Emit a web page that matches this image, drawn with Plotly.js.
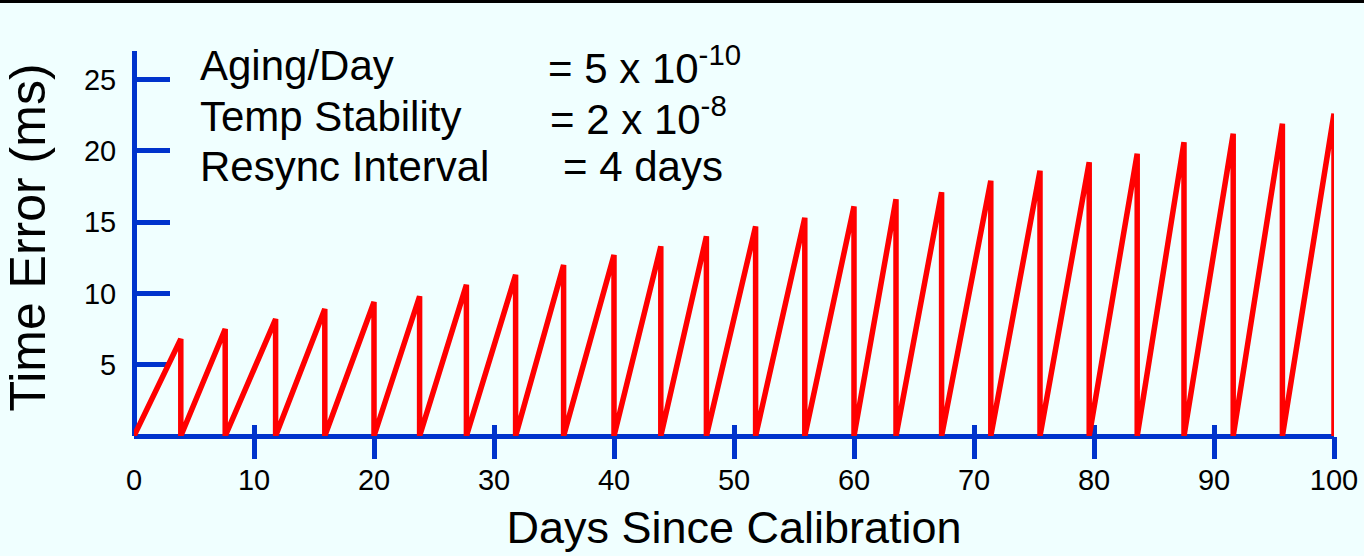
<!DOCTYPE html>
<html>
<head>
<meta charset="utf-8">
<script src="https://cdn.plot.ly/plotly-3.0.1.min.js"></script>
<style>
  html, body { margin: 0; padding: 0; background: #F0FFFF; }
  #chart { width: 1364px; height: 556px; }
</style>
</head>
<body>
<div id="chart"></div>
<script>
// Days at which each resync (drop to zero) happens
const resyncDays = [3.9, 7.6, 11.8, 15.9, 20.0, 23.8, 27.7, 31.8, 35.8, 40.0, 43.9, 47.7, 51.8,
                    55.9, 60.0, 63.5, 67.3, 71.4, 75.5, 79.6, 83.6, 87.5, 91.6, 95.7, 100];
// Peak time error (ms) reached just before each resync
const peakErrors = [6.8, 7.5, 8.2, 8.9, 9.4, 9.8, 10.6, 11.3, 12.0, 12.7, 13.3, 14.0, 14.7,
                    15.3, 16.1, 16.6, 17.1, 17.9, 18.6, 19.2, 19.8, 20.6, 21.2, 21.9, 22.6];
const startDay = 0;
const startError = 0;
const resetError = 0;

const xTickVals = [0, 10, 20, 30, 40, 50, 60, 70, 80, 90, 100];
const xTickText = ['0', '10', '20', '30', '40', '50', '60', '70', '80', '90', '100'];
const xMarkVals = [10, 20, 30, 40, 50, 60, 70, 80, 90, 100];
const yTickVals = [5, 10, 15, 20, 25];
const yTickText = ['5', '10', '15', '20', '25'];

const xTitle = 'Days Since Calibration';
const yTitle = 'Time Error (ms)';
const infoLabels = ['Aging/Day', 'Temp Stability', 'Resync Interval'];
const infoValues = ['= 5 x 10<sup>-10</sup>', '= 2 x 10<sup>-8</sup>', '= 4 days'];

// Build sawtooth path from the arrays
const sx = [startDay], sy = [startError];
for (let i = 0; i < resyncDays.length; i++) {
  sx.push(resyncDays[i]); sy.push(peakErrors[i]);
  sx.push(resyncDays[i]); sy.push(resetError);
}

const BLUE = '#0033CC';
const FONT = 'Liberation Sans, Arial, Helvetica, sans-serif';

const traces = [
  { x: [], y: [], xaxis: 'x2', yaxis: 'y', mode: 'lines', hoverinfo: 'skip', showlegend: false },
  { x: [], y: [], xaxis: 'x3', yaxis: 'y', mode: 'lines', hoverinfo: 'skip', showlegend: false },
  { x: sx, y: sy, xaxis: 'x', yaxis: 'y', mode: 'lines',
    line: { color: '#FF0000', width: 5.5, shape: 'linear' }, hoverinfo: 'skip', showlegend: false }
];

const labelX = 0.0535;
const valueX = [0.343, 0.345, 0.356];
const rowY = [0.9636, 0.830, 0.699];
const annotations = [];
for (let i = 0; i < infoLabels.length; i++) {
  annotations.push({ xref: 'paper', yref: 'paper', x: labelX, y: rowY[i], xanchor: 'left', yanchor: 'middle',
    text: infoLabels[i], showarrow: false, font: { family: FONT, size: 42, color: '#000' } });
  annotations.push({ xref: 'paper', yref: 'paper', x: valueX[i], y: rowY[i], xanchor: 'left', yanchor: 'middle',
    text: infoValues[i], showarrow: false, font: { family: FONT, size: 42, color: '#000' } });
}
annotations.push({ xref: 'paper', yref: 'paper', x: -0.0883, y: 0.5156, xanchor: 'center', yanchor: 'middle',
  textangle: -90, text: yTitle, showarrow: false, font: { family: FONT, size: 50, color: '#000' } });

const baseX = { range: [0, 100], showgrid: false, zeroline: false, fixedrange: true };

const layout = {
  width: 1364, height: 556,
  margin: { l: 134, r: 30, t: 51, b: 120, pad: 0 },
  paper_bgcolor: '#F0FFFF', plot_bgcolor: '#F0FFFF',
  font: { family: FONT, color: '#000' },
  showlegend: false,
  xaxis: Object.assign({}, baseX, {
    anchor: 'free', position: 0,
    showline: true, linecolor: BLUE, linewidth: 5, layer: 'below traces',
    ticks: '', tickmode: 'array', tickvals: xTickVals, ticktext: xTickText,
    tickfont: { family: FONT, size: 29, color: '#000' }, ticklabelstandoff: 16,
    title: { text: xTitle, font: { family: FONT, size: 45, color: '#000' }, standoff: 16 },
    automargin: false
  }),
  xaxis2: Object.assign({}, baseX, {
    overlaying: 'x', anchor: 'y', side: 'bottom', showline: false, layer: 'below traces',
    ticks: 'outside', ticklen: 22, tickwidth: 5, tickcolor: BLUE,
    tickmode: 'array', tickvals: xMarkVals, showticklabels: false
  }),
  xaxis3: Object.assign({}, baseX, {
    overlaying: 'x', anchor: 'y', side: 'bottom', showline: false, layer: 'below traces',
    ticks: 'inside', ticklen: 11, tickwidth: 5, tickcolor: BLUE,
    tickmode: 'array', tickvals: xMarkVals, showticklabels: false
  }),
  yaxis: {
    range: [0, 27], showgrid: false, zeroline: false, fixedrange: true,
    anchor: 'free', position: 0,
    showline: true, linecolor: BLUE, linewidth: 5, layer: 'below traces',
    ticks: 'inside', ticklen: 33, tickwidth: 5, tickcolor: BLUE,
    tickmode: 'array', tickvals: yTickVals, ticktext: yTickText,
    tickfont: { family: FONT, size: 29, color: '#000' }, ticklabelstandoff: 10,
    automargin: false
  },
  shapes: [
    { type: 'line', xref: 'paper', yref: 'paper', x0: -0.2, x1: 1.2, y0: 1.1286, y1: 1.1286,
      line: { color: '#000', width: 3 } }
  ],
  annotations: annotations
};

Plotly.newPlot('chart', traces, layout, { staticPlot: true, displayModeBar: false });
</script>
</body>
</html>
